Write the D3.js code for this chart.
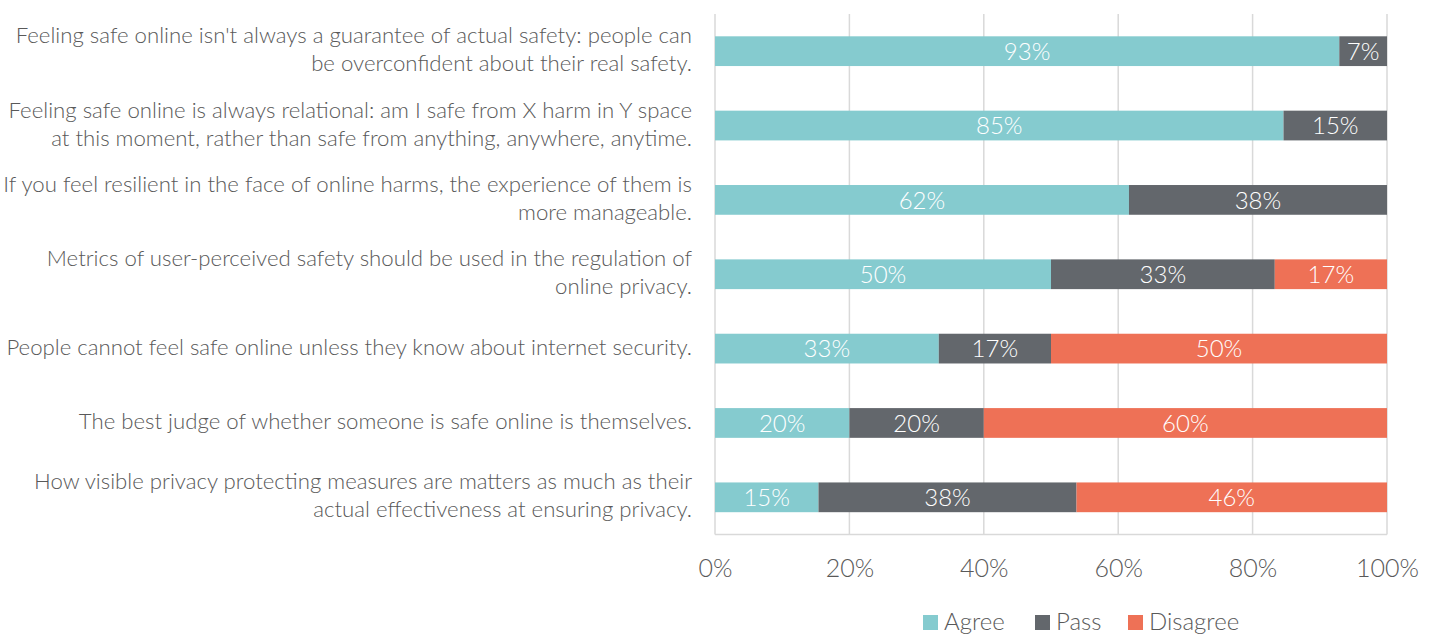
<!DOCTYPE html>
<html>
<head>
<meta charset="utf-8">
<script src="https://cdn.jsdelivr.net/npm/d3@7"></script>
<style>
  html, body { margin: 0; padding: 0; background: #ffffff; }
  svg { display: block; font-family: "Lato", "Open Sans", sans-serif; }
</style>
</head>
<body>
<svg id="chart" width="1434" height="635"></svg>
<script>
const categories = [
  "Feeling safe online isn't always a guarantee of actual safety: people can\nbe overconfident about their real safety.",
  "Feeling safe online is always relational: am I safe from X harm in Y space\nat this moment, rather than safe from anything, anywhere, anytime.",
  "If you feel resilient in the face of online harms, the experience of them is\nmore manageable.",
  "Metrics of user-perceived safety should be used in the regulation of\nonline privacy.",
  "People cannot feel safe online unless they know about internet security.",
  "The best judge of whether someone is safe online is themselves.",
  "How visible privacy protecting measures are matters as much as their\nactual effectiveness at ensuring privacy."
];
const seriesNames = ["Agree", "Pass", "Disagree"];
const agree    = [92.9, 84.6, 61.6, 50.0, 33.3, 20.0, 15.4];
const pass     = [7.1, 15.4, 38.4, 33.3, 16.7, 20.0, 38.4];
const disagree = [0, 0, 0, 16.7, 50.0, 60.0, 46.2];
const tickValues = [0, 20, 40, 60, 80, 100];
const colors = ["#85CBCF", "#63676C", "#EE7156"];

const svg = d3.select("#chart");
const plotL = 715, plotR = 1387, plotT = 14, plotB = 534.5;

const x = d3.scaleLinear().domain([0, 100]).range([plotL, plotR]);
const y = d3.scaleBand().domain(d3.range(categories.length)).range([plotT, plotB])
  .paddingInner(0.6).paddingOuter(0.3);

const rows = categories.map((c, i) => ({ i, vals: [agree[i], pass[i], disagree[i]] }));
const stack = d3.stack().keys([0, 1, 2]).value((d, k) => d.vals[k]);
const stacked = stack(rows);

// gridlines
const grid = svg.append("g");
grid.selectAll("line.v").data(tickValues).join("line")
  .attr("x1", d => x(d)).attr("x2", d => x(d))
  .attr("y1", plotT).attr("y2", plotB)
  .attr("stroke", "#D9D9D9").attr("stroke-width", 1.5);
grid.append("line").attr("x1", plotL).attr("x2", plotR).attr("y1", plotB).attr("y2", plotB)
  .attr("stroke", "#D9D9D9").attr("stroke-width", 1.5);

// bars
const layers = svg.append("g").selectAll("g").data(stacked).join("g")
  .attr("fill", (d, k) => colors[k]);
layers.selectAll("rect").data(d => d.filter(s => s[1] - s[0] > 0)).join("rect")
  .attr("x", d => x(d[0]))
  .attr("y", d => y(d.data.i))
  .attr("width", d => x(d[1]) - x(d[0]))
  .attr("height", y.bandwidth());

// bar value labels
layers.selectAll("text").data(d => d.filter(s => s[1] - s[0] > 0)).join("text")
  .attr("x", d => (x(d[0]) + x(d[1])) / 2)
  .attr("y", d => y(d.data.i) + y.bandwidth() / 2)
  .attr("dy", "0.36em")
  .attr("text-anchor", "middle")
  .attr("fill", "#ffffff")
  .attr("font-size", 24)
  .attr("font-weight", 300)
  .text(d => Math.round(d[1] - d[0]) + "%");

// category labels
const lineH = 28, catFs = 22.2;
const lab = svg.append("g").selectAll("text").data(categories).join("text")
  .attr("text-anchor", "end")
  .attr("fill", "#595959")
  .attr("font-size", catFs)
  .attr("font-weight", 300)
  .attr("y", (d, i) => y(i) + y.bandwidth() / 2 - 2);
lab.each(function(d) {
  const lines = d.split("\n");
  const t = d3.select(this);
  lines.forEach((ln, j) => {
    t.append("tspan").attr("x", 692)
      .attr("dy", j === 0 ? ((-(lines.length - 1) / 2) * lineH / catFs + 0.36) + "em" : (lineH / catFs) + "em")
      .text(ln);
  });
});

// x axis
const xAxis = d3.axisBottom(x).tickValues(tickValues).tickFormat(d => d + "%").tickSize(0).tickPadding(0);
const ax = svg.append("g").attr("transform", `translate(0,${plotB})`).call(xAxis);
ax.select(".domain").remove();
ax.selectAll("text").attr("font-size", 25).attr("font-family", "Lato, sans-serif")
  .attr("font-weight", 300).attr("fill", "#595959").attr("y", 33).attr("dy", "0.36em");

// legend
const legX = [923, 1035, 1128];
const leg = svg.append("g").selectAll("g").data(seriesNames).join("g")
  .attr("transform", (d, k) => `translate(${legX[k]},622)`);
leg.append("rect").attr("x", 0).attr("y", -7).attr("width", 15).attr("height", 15)
  .attr("fill", (d, k) => colors[k]);
leg.append("text").attr("x", 21).attr("y", 0).attr("dy", "0.34em")
  .attr("font-size", 24).attr("font-weight", 300).attr("fill", "#595959")
  .text(d => d);
</script>
</body>
</html>
